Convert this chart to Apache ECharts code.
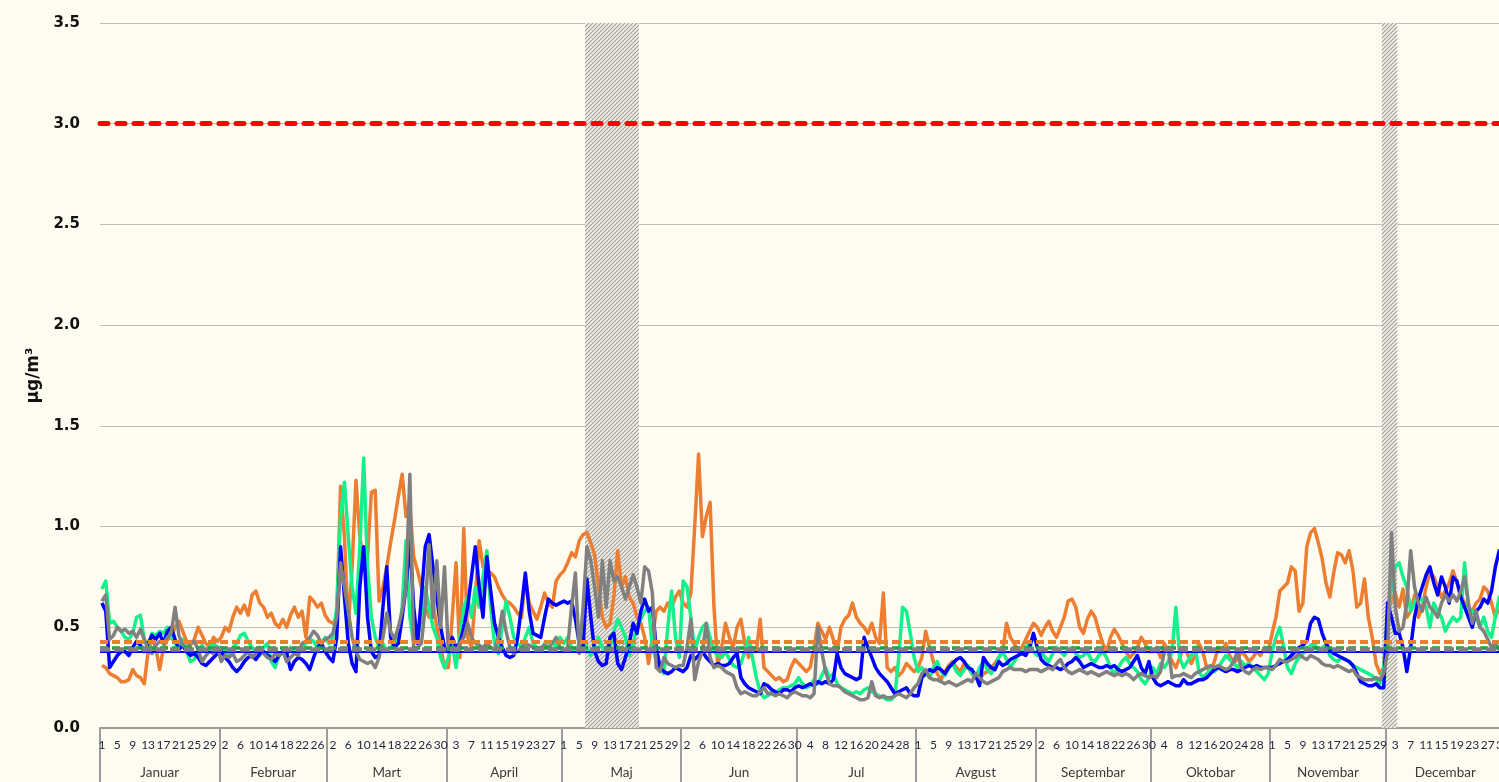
<!DOCTYPE html>
<html>
<head>
<meta charset="utf-8">
<script src="https://cdn.jsdelivr.net/npm/echarts@6.0.0/dist/echarts.min.js"></script>
<style>
  html, body { margin: 0; padding: 0; background: #FEFCF0; }
  #chart-root { width: 1499px; height: 782px; }
</style>
</head>
<body>
<div id="chart-root"></div>
<script>
(function () {
  const monthNames = ['Januar', 'Februar', 'Mart', 'April', 'Maj', 'Jun', 'Jul', 'Avgust', 'Septembar', 'Oktobar', 'Novembar', 'Decembar'];
  const monthLengths = [31, 28, 31, 30, 31, 30, 31, 31, 30, 31, 30, 31];

  // daily values, one row per month
  const orangeValues = [
    0.31,0.30,0.27,0.26,0.25,0.23,0.23,0.24,0.29,0.26,0.25,0.22,0.38,0.44,0.40,0.29,0.40,0.44,0.45,0.50,0.53,0.48,0.43,0.41,0.44,0.50,0.46,0.42,0.40,0.45,0.43,
    0.45,0.50,0.48,0.55,0.60,0.57,0.61,0.56,0.66,0.68,0.62,0.60,0.55,0.57,0.52,0.50,0.54,0.50,0.56,0.60,0.55,0.58,0.45,0.65,0.63,0.60,0.62,0.56,
    0.53,0.52,0.55,1.20,0.95,0.50,0.80,1.23,0.95,0.83,0.85,1.17,1.18,0.63,0.70,0.80,0.92,1.03,1.15,1.26,1.05,1.10,0.85,0.78,0.70,0.60,0.55,0.62,0.50,0.40,0.30,
    0.30,0.55,0.82,0.35,0.99,0.45,0.40,0.65,0.93,0.80,0.78,0.77,0.75,0.70,0.66,0.63,0.62,0.60,0.57,0.55,0.74,0.62,0.58,0.54,0.60,0.67,0.62,0.60,0.73,0.76,
    0.78,0.82,0.87,0.85,0.93,0.96,0.97,0.92,0.86,0.70,0.55,0.50,0.52,0.65,0.88,0.70,0.75,0.65,0.62,0.55,0.52,0.45,0.32,0.45,0.58,0.60,0.58,0.62,0.60,0.65,0.68,
    0.62,0.60,0.67,1.00,1.36,0.95,1.05,1.12,0.60,0.31,0.40,0.52,0.45,0.40,0.50,0.54,0.42,0.35,0.40,0.38,0.54,0.30,0.28,0.26,0.24,0.25,0.23,0.24,0.30,0.34,
    0.32,0.30,0.28,0.30,0.40,0.52,0.48,0.44,0.50,0.44,0.38,0.50,0.54,0.56,0.62,0.55,0.52,0.50,0.47,0.52,0.45,0.42,0.67,0.30,0.28,0.30,0.26,0.28,0.32,0.30,0.28,
    0.30,0.35,0.48,0.40,0.33,0.27,0.24,0.28,0.31,0.33,0.30,0.28,0.32,0.30,0.27,0.25,0.24,0.27,0.28,0.30,0.32,0.35,0.38,0.52,0.45,0.42,0.38,0.40,0.44,0.48,0.52,
    0.50,0.46,0.50,0.53,0.48,0.45,0.50,0.55,0.63,0.64,0.60,0.50,0.47,0.54,0.58,0.55,0.48,0.42,0.38,0.45,0.49,0.46,0.42,0.38,0.35,0.37,0.40,0.45,0.42,0.38,
    0.38,0.40,0.35,0.42,0.38,0.33,0.30,0.35,0.40,0.37,0.32,0.36,0.42,0.38,0.30,0.28,0.33,0.40,0.38,0.42,0.36,0.32,0.34,0.38,0.36,0.33,0.35,0.38,0.36,0.40,0.38,
    0.47,0.55,0.68,0.70,0.72,0.80,0.78,0.58,0.62,0.90,0.97,0.99,0.92,0.84,0.72,0.65,0.77,0.87,0.86,0.82,0.88,0.78,0.60,0.62,0.74,0.55,0.45,0.32,0.27,0.30,
    0.55,0.64,0.67,0.60,0.69,0.55,0.58,0.66,0.55,0.60,0.70,0.77,0.75,0.70,0.65,0.68,0.72,0.78,0.72,0.66,0.62,0.60,0.58,0.62,0.64,0.70,0.68,0.62,0.55,0.60,0.58
  ];
  const greenValues = [
    0.69,0.73,0.52,0.53,0.50,0.48,0.45,0.44,0.47,0.55,0.56,0.44,0.40,0.47,0.46,0.48,0.47,0.50,0.45,0.42,0.40,0.44,0.38,0.33,0.34,0.39,0.41,0.38,0.40,0.42,0.40,
    0.40,0.38,0.36,0.40,0.42,0.46,0.47,0.43,0.40,0.38,0.36,0.40,0.42,0.33,0.30,0.36,0.38,0.36,0.40,0.38,0.37,0.40,0.42,0.44,0.43,0.40,0.42,0.45,
    0.42,0.45,0.60,1.05,1.22,0.95,0.70,0.57,0.90,1.34,0.80,0.55,0.45,0.40,0.42,0.38,0.40,0.42,0.45,0.60,0.93,0.55,0.42,0.45,0.55,0.70,0.60,0.50,0.45,0.35,0.30,
    0.35,0.42,0.30,0.45,0.60,0.65,0.55,0.70,0.60,0.75,0.88,0.60,0.42,0.37,0.50,0.63,0.55,0.45,0.42,0.40,0.45,0.50,0.42,0.40,0.38,0.42,0.40,0.38,0.42,0.45,
    0.42,0.45,0.40,0.38,0.42,0.45,0.40,0.36,0.42,0.45,0.40,0.38,0.40,0.48,0.54,0.50,0.45,0.36,0.42,0.50,0.54,0.58,0.60,0.40,0.34,0.30,0.27,0.50,0.68,0.45,0.35,
    0.73,0.70,0.55,0.38,0.45,0.50,0.52,0.45,0.38,0.36,0.35,0.38,0.34,0.31,0.30,0.32,0.38,0.45,0.35,0.25,0.18,0.15,0.16,0.18,0.17,0.19,0.20,0.20,0.21,0.22,
    0.25,0.22,0.20,0.21,0.24,0.22,0.26,0.30,0.25,0.27,0.22,0.20,0.19,0.18,0.17,0.18,0.17,0.19,0.20,0.18,0.17,0.16,0.15,0.14,0.14,0.16,0.35,0.60,0.58,0.47,0.35,
    0.28,0.30,0.27,0.25,0.30,0.33,0.28,0.26,0.30,0.32,0.28,0.26,0.29,0.31,0.27,0.25,0.30,0.33,0.29,0.27,0.30,0.35,0.38,0.34,0.30,0.33,0.36,0.38,0.40,0.42,0.38,
    0.36,0.38,0.35,0.33,0.37,0.40,0.38,0.36,0.39,0.40,0.37,0.35,0.36,0.38,0.34,0.33,0.36,0.38,0.35,0.30,0.27,0.30,0.33,0.35,0.32,0.30,0.28,0.24,0.22,0.25,
    0.30,0.27,0.32,0.30,0.33,0.38,0.60,0.35,0.30,0.33,0.36,0.40,0.28,0.25,0.27,0.29,0.28,0.30,0.33,0.36,0.34,0.32,0.30,0.33,0.31,0.32,0.30,0.28,0.26,0.24,0.27,
    0.38,0.45,0.50,0.40,0.30,0.27,0.32,0.35,0.37,0.39,0.41,0.42,0.38,0.40,0.41,0.36,0.34,0.33,0.35,0.34,0.33,0.31,0.30,0.29,0.28,0.27,0.26,0.24,0.22,0.30,
    0.55,0.70,0.80,0.82,0.75,0.70,0.58,0.62,0.66,0.63,0.60,0.50,0.62,0.58,0.55,0.48,0.52,0.55,0.53,0.55,0.82,0.60,0.58,0.55,0.50,0.55,0.48,0.45,0.55,0.65,0.60
  ];
  const blueValues = [
    0.62,0.58,0.30,0.33,0.36,0.38,0.38,0.36,0.40,0.43,0.41,0.38,0.42,0.46,0.44,0.47,0.42,0.48,0.50,0.44,0.39,0.41,0.38,0.36,0.37,0.35,0.32,0.31,0.33,0.35,0.37,
    0.38,0.35,0.33,0.30,0.28,0.30,0.33,0.35,0.36,0.34,0.37,0.38,0.36,0.35,0.33,0.36,0.38,0.37,0.29,0.33,0.35,0.34,0.32,0.29,0.35,0.40,0.42,0.38,
    0.35,0.33,0.45,0.90,0.65,0.42,0.32,0.28,0.70,0.90,0.55,0.38,0.35,0.36,0.60,0.80,0.45,0.40,0.42,0.55,0.70,0.93,0.60,0.42,0.65,0.90,0.96,0.80,0.65,0.50,0.40,
    0.38,0.45,0.40,0.42,0.50,0.60,0.75,0.90,0.70,0.55,0.85,0.68,0.52,0.45,0.40,0.36,0.35,0.36,0.45,0.60,0.77,0.58,0.47,0.46,0.45,0.55,0.64,0.62,0.61,0.62,
    0.63,0.62,0.63,0.54,0.42,0.40,0.74,0.55,0.38,0.33,0.31,0.32,0.45,0.47,0.32,0.29,0.35,0.42,0.52,0.47,0.58,0.64,0.58,0.60,0.40,0.30,0.28,0.27,0.28,0.30,0.29,
    0.28,0.30,0.36,0.34,0.36,0.38,0.35,0.33,0.31,0.32,0.31,0.31,0.32,0.35,0.37,0.25,0.22,0.20,0.19,0.18,0.17,0.22,0.21,0.19,0.18,0.17,0.19,0.19,0.18,0.20,
    0.21,0.20,0.21,0.22,0.21,0.23,0.22,0.23,0.22,0.24,0.37,0.30,0.27,0.26,0.25,0.24,0.25,0.45,0.40,0.35,0.30,0.27,0.25,0.23,0.20,0.17,0.18,0.19,0.20,0.17,0.16,
    0.16,0.25,0.27,0.29,0.28,0.30,0.29,0.27,0.30,0.32,0.34,0.35,0.33,0.30,0.29,0.26,0.21,0.35,0.32,0.30,0.29,0.33,0.31,0.32,0.34,0.35,0.36,0.37,0.36,0.40,0.47,
    0.40,0.34,0.32,0.31,0.30,0.30,0.29,0.30,0.32,0.33,0.35,0.33,0.30,0.31,0.32,0.31,0.30,0.30,0.31,0.30,0.31,0.29,0.28,0.29,0.30,0.33,0.36,0.30,0.27,0.33,
    0.25,0.22,0.21,0.22,0.23,0.22,0.21,0.21,0.24,0.22,0.22,0.23,0.24,0.24,0.25,0.27,0.29,0.30,0.29,0.28,0.29,0.29,0.28,0.29,0.30,0.31,0.30,0.31,0.30,0.30,0.30,
    0.30,0.31,0.32,0.33,0.34,0.36,0.38,0.40,0.41,0.43,0.52,0.55,0.54,0.47,0.42,0.39,0.37,0.36,0.35,0.34,0.33,0.31,0.27,0.23,0.22,0.21,0.21,0.22,0.20,0.20,
    0.62,0.55,0.47,0.47,0.40,0.28,0.40,0.55,0.64,0.70,0.76,0.80,0.72,0.66,0.75,0.70,0.62,0.75,0.73,0.65,0.60,0.55,0.50,0.58,0.60,0.64,0.62,0.68,0.80,0.88,0.85
  ];
  const grayValues = [
    0.63,0.66,0.44,0.46,0.50,0.48,0.49,0.47,0.48,0.45,0.49,0.44,0.39,0.37,0.41,0.43,0.42,0.45,0.47,0.60,0.46,0.41,0.40,0.42,0.43,0.39,0.33,0.36,0.38,0.37,0.40,
    0.33,0.36,0.35,0.37,0.33,0.34,0.36,0.38,0.35,0.37,0.40,0.37,0.35,0.34,0.37,0.36,0.38,0.33,0.35,0.37,0.36,0.42,0.43,0.45,0.48,0.46,0.42,0.44,
    0.45,0.47,0.55,0.82,0.70,0.58,0.45,0.38,0.34,0.33,0.32,0.33,0.30,0.35,0.45,0.57,0.48,0.44,0.50,0.58,0.70,1.26,0.38,0.40,0.42,0.60,0.91,0.55,0.83,0.50,0.80,
    0.38,0.40,0.38,0.42,0.45,0.52,0.45,0.42,0.41,0.40,0.42,0.40,0.39,0.45,0.58,0.48,0.40,0.37,0.38,0.40,0.42,0.41,0.40,0.39,0.40,0.41,0.40,0.42,0.45,0.40,
    0.38,0.40,0.60,0.77,0.37,0.60,0.90,0.83,0.70,0.55,0.83,0.60,0.83,0.73,0.75,0.70,0.64,0.70,0.76,0.70,0.62,0.80,0.78,0.67,0.30,0.28,0.35,0.32,0.31,0.30,0.31,
    0.31,0.40,0.54,0.24,0.33,0.38,0.52,0.35,0.30,0.31,0.30,0.28,0.27,0.26,0.20,0.17,0.18,0.17,0.16,0.16,0.18,0.20,0.17,0.17,0.16,0.17,0.16,0.15,0.17,0.18,
    0.17,0.16,0.16,0.15,0.17,0.50,0.38,0.28,0.22,0.21,0.21,0.20,0.18,0.17,0.16,0.15,0.14,0.14,0.15,0.23,0.16,0.15,0.16,0.15,0.15,0.16,0.17,0.16,0.15,0.17,0.20,
    0.22,0.27,0.29,0.25,0.24,0.24,0.23,0.22,0.23,0.22,0.21,0.22,0.23,0.24,0.23,0.27,0.25,0.23,0.22,0.23,0.24,0.25,0.28,0.29,0.30,0.29,0.29,0.29,0.28,0.29,0.29,
    0.29,0.28,0.29,0.30,0.29,0.32,0.34,0.30,0.28,0.27,0.28,0.29,0.28,0.27,0.28,0.27,0.26,0.27,0.28,0.27,0.26,0.27,0.26,0.27,0.26,0.24,0.26,0.27,0.26,0.25,
    0.26,0.25,0.28,0.38,0.40,0.25,0.26,0.26,0.27,0.26,0.25,0.27,0.28,0.29,0.30,0.31,0.30,0.31,0.30,0.29,0.30,0.33,0.38,0.30,0.28,0.27,0.29,0.30,0.29,0.30,0.30,
    0.29,0.31,0.34,0.33,0.33,0.34,0.35,0.37,0.35,0.34,0.36,0.35,0.34,0.32,0.31,0.31,0.30,0.31,0.30,0.29,0.28,0.29,0.26,0.25,0.24,0.24,0.24,0.25,0.24,0.27,
    0.38,0.97,0.60,0.48,0.50,0.62,0.88,0.70,0.62,0.58,0.65,0.60,0.58,0.55,0.62,0.66,0.63,0.66,0.63,0.68,0.75,0.62,0.52,0.58,0.50,0.48,0.44,0.40,0.42,0.39,0.38
  ];

  // reference levels
  const limitValue = 3.0;
  const orangeMean = 0.43;
  const greenMean = 0.40;
  const blueMean = 0.378;
  const grayMean = 0.385;

  // hatched periods, as [first day index, last day index]
  const hatchRanges = [[126, 139], [333, 336]];

  const yTicks = [0, 0.5, 1, 1.5, 2, 2.5, 3, 3.5];

  const bg = '#FEFCF0';
  const colOrange = '#ED7D31';
  const colGreen = '#14F08C';
  const colBlue = '#0000FF';
  const colGray = '#808080';

  const days = [];
  const monthStarts = [];
  const monthMids = [];
  let acc = 0;
  monthLengths.forEach(function (len, m) {
    monthStarts.push(acc);
    monthMids.push(acc + len / 2);
    for (let d = 1; d <= len; d++) {
      days.push(d + '.' + (m + 1));
    }
    acc += len;
  });
  monthStarts.push(acc);

  function makeHatch() {
    const c = document.createElement('canvas');
    c.width = 4; c.height = 4;
    const g = c.getContext('2d');
    g.fillStyle = '#F4F2E8';
    g.fillRect(0, 0, 4, 4);
    g.strokeStyle = '#9C9C9C';
    g.lineWidth = 1.1;
    g.beginPath();
    g.moveTo(-1, 5); g.lineTo(5, -1);
    g.moveTo(-1, 1); g.lineTo(1, -1);
    g.moveTo(3, 5); g.lineTo(5, 3);
    g.stroke();
    return c;
  }
  const hatchCanvas = makeHatch();

  function refLine(value, color, width, type) {
    return {
      silent: true,
      symbol: ['none', 'none'],
      label: { show: false },
      animation: false,
      lineStyle: { color: color, width: width, type: type, opacity: 1 },
      data: [{ yAxis: value }]
    };
  }

  function lineSeries(name, values, color, markLine) {
    return {
      name: name,
      type: 'line',
      data: values,
      symbol: 'none',
      silent: true,
      z: 3,
      lineStyle: { color: color, width: 3.5, join: 'round' },
      itemStyle: { color: color },
      markLine: markLine
    };
  }

  const root = document.getElementById('chart-root');
  const chart = echarts.init(root, null, { renderer: 'canvas' });
  const labelFont = 'DejaVu Sans';

  const grayMark = refLine(grayMean, colGray, 4.5, [10, 4]);
  grayMark.data.push({ yAxis: limitValue, lineStyle: { color: '#FF0000', width: 5, type: [8, 9], cap: 'round' } });

  chart.setOption({
    backgroundColor: bg,
    animation: false,
    grid: { left: 100, top: 23, width: 1405, bottom: 54, outerBoundsMode: 'none', containLabel: false },
    xAxis: [
      {
        type: 'category',
        data: days,
        boundaryGap: true,
        position: 'bottom',
        axisLine: { show: true, lineStyle: { color: '#9C9C9C', width: 2 } },
        axisTick: { show: false },
        splitLine: { show: false },
        axisLabel: {
          interval: 3,
          hideOverlap: false,
          margin: 11,
          fontFamily: 'Lato',
          fontSize: 12,
          color: '#1C2340',
          formatter: function (v) { return v.split('.')[0]; }
        }
      },
      {
        type: 'value',
        min: 0,
        max: 365,
        position: 'bottom',
        axisLine: { show: false },
        splitLine: { show: false },
        axisTick: {
          show: true,
          customValues: monthStarts,
          length: 56,
          lineStyle: { color: '#9C9C9C', width: 2 }
        },
        axisLabel: {
          customValues: monthMids,
          hideOverlap: false,
          margin: 38,
          fontFamily: 'Lato',
          fontSize: 13.5,
          color: '#3A3A3A',
          formatter: function (v) {
            let best = 0;
            monthMids.forEach(function (m, i) {
              if (Math.abs(m - v) < Math.abs(monthMids[best] - v)) best = i;
            });
            return monthNames[best];
          }
        }
      }
    ],
    yAxis: {
      type: 'value',
      min: yTicks[0],
      max: yTicks[yTicks.length - 1],
      interval: 0.5,
      name: 'µg/m³',
      nameLocation: 'middle',
      nameGap: 52,
      nameRotate: 90,
      nameTextStyle: { fontFamily: labelFont, fontWeight: 'bold', fontSize: 17, color: '#111' },
      axisLine: { show: false },
      axisTick: { show: false },
      axisLabel: {
        margin: 20,
        fontFamily: labelFont,
        fontWeight: 'bold',
        fontSize: 15,
        color: '#111',
        formatter: function (v) { return v.toFixed(1); }
      },
      splitLine: { lineStyle: { color: '#BEBEBE', width: 1 } }
    },
    series: [
      {
        type: 'custom',
        silent: true,
        z: 1,
        xAxisIndex: 0,
        yAxisIndex: 0,
        encode: { x: [0, 1] },
        data: hatchRanges,
        renderItem: function (params, api) {
          const cs = params.coordSys;
          const band = api.size([1, 0])[0];
          const x0 = api.coord([api.value(0), 0])[0] - band / 2;
          const x1 = api.coord([api.value(1), 0])[0] + band / 2;
          return {
            type: 'rect',
            shape: { x: x0, y: cs.y, width: x1 - x0, height: cs.height },
            style: { fill: { image: hatchCanvas, repeat: 'repeat' } }
          };
        }
      },
      lineSeries('Narandžasta', orangeValues, colOrange, refLine(orangeMean, colOrange, 4, [8, 4])),
      lineSeries('Zelena', greenValues, colGreen, refLine(greenMean, '#1E9E4A', 3.5, [8, 4])),
      lineSeries('Plava', blueValues, colBlue, refLine(blueMean, colBlue, 2, 'solid')),
      lineSeries('Siva', grayValues, colGray, grayMark)
    ]
  });
}());
</script>
</body>
</html>
